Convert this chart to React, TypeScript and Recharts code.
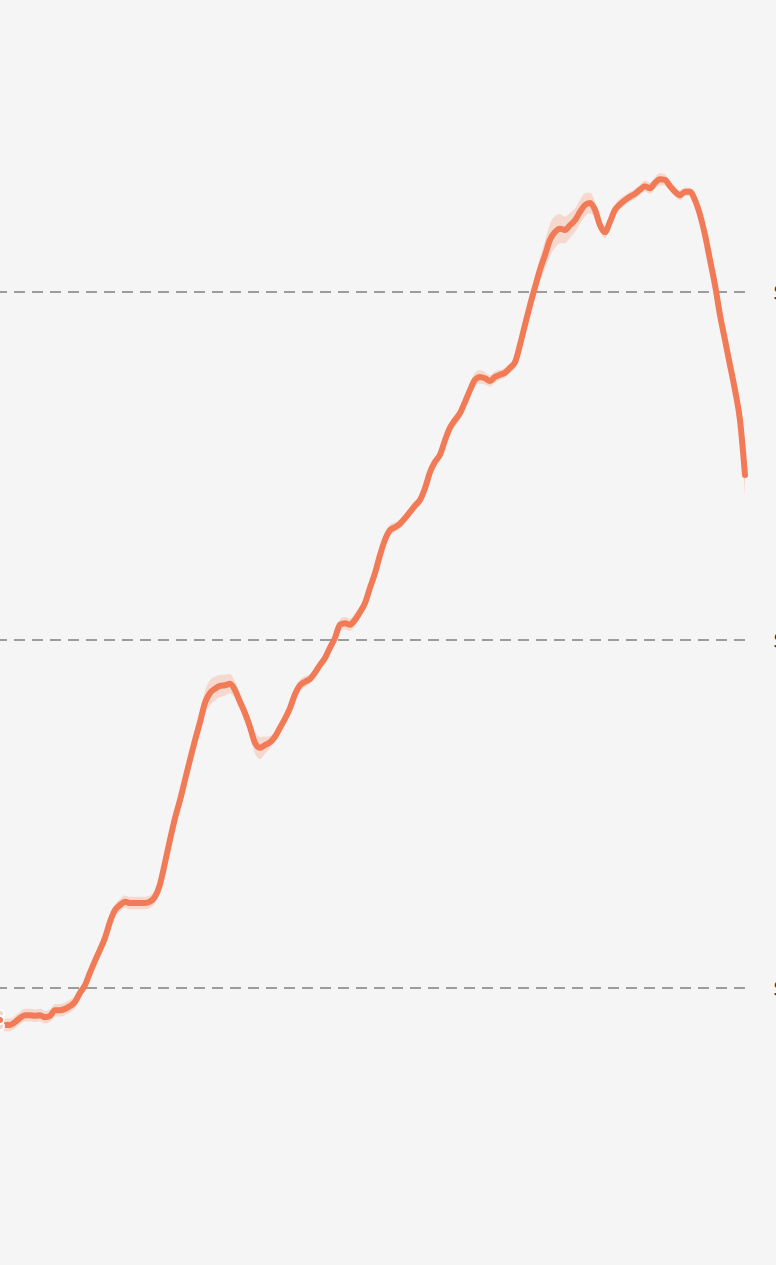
import { Area, ComposedChart, Line, ReferenceLine, XAxis, YAxis } from "recharts";

// price index, one point every step
const values = [
  245.4, 244.7, 244.7, 245.1, 245.7, 246.1, 246.1, 246.0, 246.1, 245.8,
  246.0, 246.8, 246.8, 247.0, 247.4, 248.0, 249.3, 250.4, 252.2, 253.9,
  255.5, 257.2, 259.5, 261.2, 261.9, 262.4, 262.2, 262.2, 262.2, 262.2,
  262.4, 263.1, 264.9, 268.0, 271.3, 274.4, 277.0, 279.9, 282.8, 285.6,
  288.2, 291.0, 292.4, 293.0, 293.4, 293.5, 293.7, 292.8, 291.1, 289.5,
  287.5, 285.2, 284.5, 284.9, 285.3, 286.1, 287.4, 288.7, 290.2, 292.2,
  293.5, 294.0, 294.4, 295.3, 296.4, 297.4, 298.9, 300.3, 302.2, 302.4,
  302.2, 302.9, 304.0, 305.3, 307.5, 309.6, 312.2, 314.4, 315.8, 316.2,
  316.7, 317.5, 318.4, 319.3, 320.1, 321.8, 324.1, 325.6, 326.6, 328.7,
  330.5, 331.6, 332.6, 334.2, 335.9, 337.4, 337.8, 337.6, 337.2, 337.8,
  338.1, 338.4, 339.1, 339.9, 342.4, 345.3, 348.1, 350.7, 353.2, 355.3,
  357.5, 358.6, 359.1, 358.9, 359.6, 360.3, 361.5, 362.5, 362.8, 361.8,
  359.6, 358.6, 360.1, 361.8, 362.6, 363.2, 363.7, 364.1, 364.7, 365.2,
  364.9, 365.7, 366.2, 366.1, 365.2, 364.4, 363.9, 364.4, 364.4, 363.2,
  361.1, 358.2, 354.6, 351.0, 346.7, 343.1, 339.5, 335.9, 331.6, 323.7,
];

// half width of the shaded uncertainty band
const spread = [
  0.9, 0.9, 0.9, 0.9, 0.9, 0.9, 0.9, 0.9, 0.9, 0.9,
  0.9, 0.9, 0.9, 0.9, 0.9, 0.9, 0.7, 0.7, 0.7, 0.7,
  0.7, 0.7, 0.7, 0.8, 0.9, 0.9, 0.9, 0.9, 0.9, 0.9,
  0.9, 0.9, 0.8, 0.6, 0.6, 0.6, 0.6, 0.7, 0.8, 1.0,
  1.4, 1.7, 1.8, 1.7, 1.6, 1.5, 1.4, 1.2, 1.1, 1.1,
  1.2, 1.5, 1.6, 1.2, 0.9, 0.7, 0.6, 0.6, 0.6, 0.7,
  0.8, 0.8, 0.6, 0.6, 0.6, 0.6, 0.6, 0.6, 0.8, 0.9,
  0.9, 0.9, 0.8, 0.8, 0.9, 0.9, 0.8, 0.8, 0.8, 0.7,
  0.7, 0.7, 0.7, 0.7, 0.7, 0.7, 0.7, 0.7, 0.7, 0.8,
  0.8, 0.8, 0.8, 0.8, 0.9, 1.0, 1.0, 0.9, 0.8, 0.8,
  0.7, 0.7, 0.7, 0.8, 0.9, 1.0, 1.2, 1.4, 1.7, 2.0,
  2.3, 2.3, 2.1, 1.9, 1.8, 1.7, 1.7, 1.7, 1.5, 1.2,
  1.0, 0.9, 0.9, 0.8, 0.8, 0.7, 0.7, 0.7, 0.7, 0.8,
  0.8, 0.8, 0.9, 0.8, 0.7, 0.7, 0.7, 0.6, 0.6, 0.6,
  0.6, 0.6, 0.6, 0.6, 0.6, 0.6, 0.7, 0.9, 1.5, 3.0,
];

const yTicks = [250, 300, 350];

const data = values.map((v, i) => ({
  step: i,
  value: v,
  band: [v - spread[i], v + spread[i]],
}));

// the chart fills the whole window, edge to edge
document.body.style.margin = "0";
document.body.style.background = "#f5f5f5";
document.documentElement.style.background = "#f5f5f5";

const App = () => {
  return (
    <div style={{ background: "#f5f5f5", width: 776, height: 1265, overflow: "hidden" }}>
      <ComposedChart
        width={776}
        height={1265}
        data={data}
        margin={{ top: 0, right: 0, bottom: 0, left: 0 }}
      >
        <XAxis dataKey="step" hide />
        <YAxis
          orientation="right"
          width={31}
          domain={[210.2, 391.95]}
          ticks={yTicks}
          axisLine={false}
          tickLine={false}
          tickSize={0}
          tickMargin={28}
          tickFormatter={(v) => `$${v}K`}
          tick={{ fontSize: 22, fill: "#333", fontFamily: "Lato, sans-serif" }}
        />
        {yTicks.map((t) => (
          <ReferenceLine
            key={t}
            y={t}
            stroke="#9c9c9c"
            strokeWidth={2}
            strokeDasharray="11 7"
          />
        ))}
        <Area
          dataKey="band"
          type="monotone"
          stroke="none"
          fill="#f5d5ca"
          fillOpacity={0.9}
          isAnimationActive={false}
        />
        <Line
          dataKey="value"
          type="monotone"
          stroke="#f07b56"
          strokeWidth={6}
          dot={false}
          strokeLinecap="round"
          strokeLinejoin="round"
          isAnimationActive={false}
        />
      </ComposedChart>
    </div>
  );
};

export default App;
